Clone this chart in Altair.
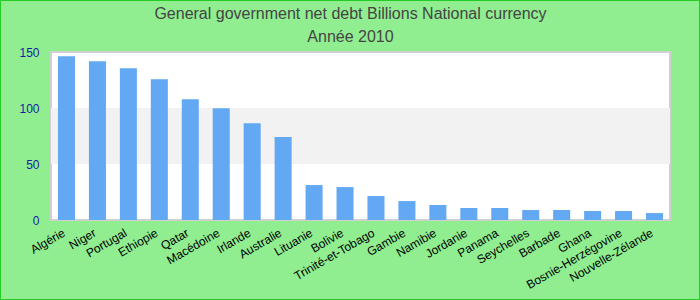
import altair as alt
import pandas as pd

countries = ["Algérie", "Niger", "Portugal", "Ethiopie", "Qatar", "Macédoine", "Irlande",
             "Australie", "Lituanie", "Bolivie", "Trinité-et-Tobago", "Gambie", "Namibie",
             "Jordanie", "Panama", "Seychelles", "Barbade", "Ghana", "Bosnie-Herzégovine",
             "Nouvelle-Zélande"]
values = [146.1, 141.7, 135.4, 125.6, 107.8, 99.8, 86.4, 74.0, 31.2, 29.4,
          21.4, 16.9, 13.4, 10.7, 10.7, 8.9, 8.9, 8.0, 8.0, 6.2]
band_start = [50]
band_end = [100]
y_ticks = [0, 50, 100, 150]

df = pd.DataFrame({"country": countries, "value": values})
bands = pd.DataFrame({"y0": band_start, "y1": band_end})

yscale = alt.Scale(domain=[0, 150], nice=False, zero=True)

band_layer = alt.Chart(bands).mark_rect(color="#f2f2f2").encode(
    y=alt.Y("y0:Q", scale=yscale),
    y2="y1:Q",
)

bars = alt.Chart(df).mark_bar(color="#62a8f2").encode(
    x=alt.X("country:N", sort=countries,
            scale=alt.Scale(paddingInner=0.45, paddingOuter=0.225),
            axis=alt.Axis(title=None, labelAngle=-30, labelAlign="right",
                          labelBaseline="top", labelFontSize=12, labelColor="#000000",
                          labelFont="Liberation Sans", ticks=False, domain=False,
                          labelPadding=7, labelOffset=-5, labelOverlap=False)),
    y=alt.Y("value:Q", scale=yscale,
            axis=alt.Axis(title=None, values=y_ticks, grid=False, ticks=False,
                          domain=False, labelColor="#1a1aa6", labelFontSize=12,
                          labelFont="Liberation Sans", labelPadding=12)),
)

frame = alt.Chart(pd.DataFrame({"a": [0]})).mark_rect(
    fill=None, stroke="#22cc22", strokeWidth=1
).encode(
    x=alt.value(-50.5), x2=alt.value(648.5), y=alt.value(-51.5), y2=alt.value(247.5)
)

chart = alt.layer(band_layer, bars, frame).properties(
    width=619,
    height=168,
    autosize=alt.AutoSizeParams(type="none"),
    padding={"left": 51, "top": 52, "right": 30, "bottom": 80},
    background="#90ee90",
    title=alt.TitleParams(
        text=["General government net debt Billions National currency", "Année 2010"],
        fontSize=16, font="Liberation Sans", fontWeight="normal", color="#444444",
        anchor="middle", frame="group", dx=-10, offset=0, dy=45, lineHeight=23,
    ),
).configure_view(stroke="#d0d0d0", strokeWidth=2, fill="#ffffff")

chart.save("out.html", embed_options={"renderer": "svg", "actions": False})
